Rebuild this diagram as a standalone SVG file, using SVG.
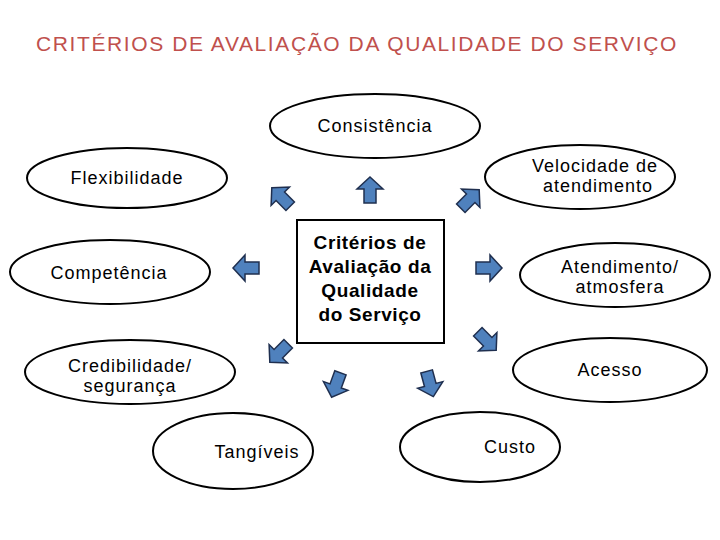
<svg xmlns="http://www.w3.org/2000/svg" width="720" height="540" viewBox="0 0 720 540">
<style>
.e{fill:#fff;stroke:#000;stroke-width:2}
.t{font-family:"Liberation Sans",Arial,sans-serif;font-size:18px;letter-spacing:1px;fill:#000;text-anchor:middle}
.b{font-weight:bold;font-size:19px;letter-spacing:0.6px}
.a{fill:#4F81BD;stroke:#1F2F4F;stroke-width:1.5}
</style>
<defs><path id="ar" d="M0,-13 L13,-1 L6,-1 L6,13 L-6,13 L-6,-1 L-13,-1 Z"/></defs>
<rect width="720" height="540" fill="#fff"/>
<text x="357" y="51" font-family="Liberation Sans,Arial,sans-serif" font-size="21" letter-spacing="1.6" fill="#C0504D" text-anchor="middle">CRITÉRIOS DE AVALIAÇÃO DA QUALIDADE  DO SERVIÇO</text>
<g id="center"><rect x="297" y="220" width="147" height="123" fill="#fff" stroke="#000" stroke-width="2"/>
<text class="t b" x="370" y="249">Critérios de</text><text class="t b" x="370" y="273">Avaliação da</text><text class="t b" x="370" y="297">Qualidade</text><text class="t b" x="370" y="321">do Serviço</text></g>
<g id="consistencia"><ellipse class="e" cx="375" cy="126" rx="105" ry="32"/><text class="t" x="375" y="132">Consistência</text></g>
<g id="flexibilidade"><ellipse class="e" cx="127" cy="178" rx="100" ry="30"/><text class="t" x="127" y="184">Flexibilidade</text></g>
<g id="velocidade"><ellipse class="e" cx="580" cy="177" rx="95" ry="32"/><text class="t" x="595" y="172">Velocidade de</text><text class="t" x="598" y="192">atendimento</text></g>
<g id="competencia"><ellipse class="e" cx="110" cy="272" rx="100" ry="32"/><text class="t" x="109" y="279">Competência</text></g>
<g id="atendimento"><ellipse class="e" cx="615" cy="275" rx="95" ry="32"/><text class="t" x="620" y="273">Atendimento/</text><text class="t" x="620" y="293">atmosfera</text></g>
<g id="credibilidade"><ellipse class="e" cx="130" cy="372" rx="105" ry="32"/><text class="t" x="130" y="372">Credibilidade/</text><text class="t" x="130" y="392">segurança</text></g>
<g id="acesso"><ellipse class="e" cx="610" cy="370" rx="97" ry="32"/><text class="t" x="610" y="376">Acesso</text></g>
<g id="tangiveis"><ellipse class="e" cx="233" cy="451" rx="80" ry="38"/><text class="t" x="257" y="458">Tangíveis</text></g>
<g id="custo"><ellipse class="e" cx="480" cy="447" rx="80" ry="35"/><text class="t" x="510" y="453">Custo</text></g>
<g id="connectors">
<use href="#ar" class="a" transform="translate(370,190)"/>
<use href="#ar" class="a" transform="translate(281,197) rotate(-45)"/>
<use href="#ar" class="a" transform="translate(470,199) rotate(45)"/>
<use href="#ar" class="a" transform="translate(246,268) rotate(-90)"/>
<use href="#ar" class="a" transform="translate(489,268) rotate(90)"/>
<use href="#ar" class="a" transform="translate(487,341) rotate(135)"/>
<use href="#ar" class="a" transform="translate(279,353) rotate(-135)"/>
<use href="#ar" class="a" transform="translate(336,385) rotate(200)"/>
<use href="#ar" class="a" transform="translate(430,384) rotate(165)"/>
</g>
</svg>
